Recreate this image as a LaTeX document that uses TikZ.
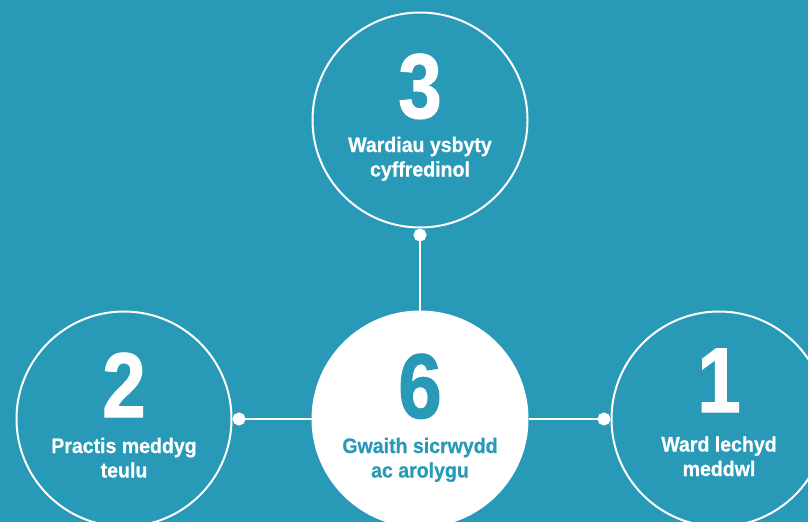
\documentclass[tikz,border=0pt]{standalone}
\usepackage{fontspec}
\setmainfont{Liberation Sans}[FakeStretch=0.85, BoldFeatures={FakeBold=1.2}]
\newfontfamily\capfont{Liberation Sans}[FakeStretch=0.93, BoldFeatures={FakeBold=0.6}]
\usetikzlibrary{arrows.meta}
\definecolor{VisitTeal}{RGB}{40,154,183}

\begin{document}
\begin{tikzpicture}[
    x=1pt, y=-1pt,
    ring/.style={
        circle,
        draw=white,               % white outline on the teal ground
        line width=2pt,
        minimum size=215pt,
        inner sep=0pt
    },
    hubring/.style={
        ring,
        fill=white
    },
    bignum/.style={
        font=\fontsize{92}{92}\selectfont\bfseries,
        text=white,
        anchor=base,
        inner sep=0pt
    },
    caption/.style={
        font=\capfont\fontsize{21}{24.5}\selectfont\bfseries,
        text=white,
        align=center,
        anchor=base,              % base = last line
        inner sep=0pt
    },
    link/.style={
        draw=white,
        line width=1.8pt,
        {Circle[length=13pt]}-
    }
]

    % --- ground ---
    \fill[VisitTeal] (0,0) rectangle (808,522);
    \useasboundingbox (0,0) rectangle (808,522);
    \clip (0,0) rectangle (808,522);

    % --- circles ---
    \node[ring] (wards) at (420,120) {};
    \node[ring] (practice) at (124,419) {};
    \node[hubring] (review) at (420,419) {};
    \node[ring] (mental) at (719,419) {};

    % --- connectors ---
    \draw[link] (wards) -- (review);
    \draw[link] (practice) -- (review);
    \draw[link] (mental) -- (review);

    % --- numbers and labels ---
    \node[bignum] (n3) at ([yshift=2pt]wards.center) {3};
    \node[caption] (t3) at ([yshift=-56.5pt]wards.center) {Wardiau ysbyty\\cyffredinol};

    \node[bignum] (n2) at ([yshift=2pt]practice.center) {2};
    \node[caption] (t2) at ([yshift=-58.5pt]practice.center) {Practis meddyg\\teulu};

    \node[bignum, text=VisitTeal] (n6) at ([yshift=1pt]review.center) {6};
    \node[caption, text=VisitTeal] (t6) at ([yshift=-58.5pt]review.center) {Gwaith sicrwydd\\ac arolygu};

    \node[bignum] (n1) at ([yshift=7pt]mental.center) {1};
    \node[caption] (t1) at ([yshift=-57pt]mental.center) {Ward lechyd\\meddwl};

\end{tikzpicture}
\end{document}
